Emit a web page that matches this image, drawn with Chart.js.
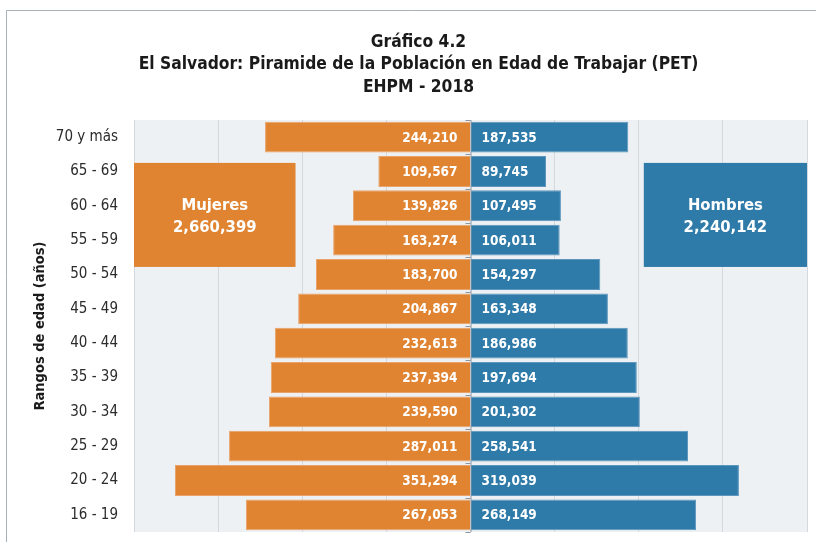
<!DOCTYPE html>
<html>
<head>
<meta charset="utf-8">
<script src="https://cdn.jsdelivr.net/npm/chart.js@4"></script>
<style>
  html,body{margin:0;padding:0;background:#fff;}
  #wrap{position:relative;width:816px;height:542px;}
</style>
</head>
<body>
<div id="wrap"><canvas id="c" width="816" height="542"></canvas></div>
<script>
const categories = ["70 y más","65 - 69","60 - 64","55 - 59","50 - 54","45 - 49","40 - 44","35 - 39","30 - 34","25 - 29","20 - 24","16 - 19"];
const mujeres = [244210,109567,139826,163274,183700,204867,232613,237394,239590,287011,351294,267053];
const hombres = [187535,89745,107495,106011,154297,163348,186986,197694,201302,258541,319039,268149];
const titleLines = ["Gráfico 4.2","El Salvador: Piramide de la Población en Edad de Trabajar (PET)","EHPM - 2018"];
const yAxisTitle = "Rangos de edad (años)";
const seriesNames = ["Mujeres","Hombres"];

const FONT = "'DejaVu Sans Condensed', 'Liberation Sans Narrow', sans-serif";
const fmt = v => Math.abs(v).toLocaleString('en-US');
const total = arr => arr.reduce((a,b)=>a+b,0);

const ORANGE = '#E08432';
const BLUE = '#2E7AA9';

const bgPlugin = {
  id:'bg',
  beforeDraw(chart){
    const {ctx, chartArea:a} = chart;
    ctx.save();
    ctx.fillStyle = '#fff';
    ctx.fillRect(0,0,chart.width,chart.height);
    ctx.strokeStyle = '#A9B0B7';
    ctx.lineWidth = 1;
    ctx.beginPath();
    ctx.moveTo(6.5, chart.height+5);
    ctx.lineTo(6.5, 10.5);
    ctx.lineTo(chart.width+5, 10.5);
    ctx.stroke();
    ctx.fillStyle = '#EEF1F3';
    ctx.fillRect(a.left, a.top, a.right-a.left, a.bottom-a.top);
    ctx.restore();
  }
};

const labelPlugin = {
  id:'labels',
  afterDatasetsDraw(chart){
    const {ctx, scales:{x,y}} = chart;
    ctx.save();
    ctx.font = "bold 13.5px " + FONT;
    ctx.fillStyle = '#fff';
    ctx.textBaseline = 'middle';
    chart.data.datasets.forEach((ds, di) => {
      const meta = chart.getDatasetMeta(di);
      meta.data.forEach((bar, i) => {
        const v = ds.data[i];
        if (v < 0) {
          ctx.textAlign = 'right';
          ctx.fillText(fmt(v), x.getPixelForValue(0) - 13, bar.y + 1);
        } else {
          ctx.textAlign = 'left';
          ctx.fillText(fmt(v), x.getPixelForValue(0) + 11, bar.y + 1);
        }
      });
    });
    const boxes = [
      {name: seriesNames[0], val: total(mujeres), x0: -400000, x1: -208000, color: ORANGE},
      {name: seriesNames[1], val: total(hombres), x0: 206000, x1: 400000, color: BLUE}
    ];
    boxes.forEach(b => {
      const px0 = x.getPixelForValue(b.x0), px1 = x.getPixelForValue(b.x1);
      const py0 = y.getPixelForValue(0.75), py1 = y.getPixelForValue(3.78);
      ctx.fillStyle = b.color;
      ctx.fillRect(px0, py0, px1-px0, py1-py0);
      ctx.fillStyle = '#fff';
      ctx.textAlign = 'center';
      ctx.font = "bold 16.5px " + FONT;
      const cx = (px0+px1)/2, cy = (py0+py1)/2;
      ctx.fillText(b.name, cx, cy - 9);
      ctx.fillText(fmt(b.val), cx, cy + 13);
    });
    const x0 = x.getPixelForValue(0);
    ctx.strokeStyle = '#8C959D';
    ctx.lineWidth = 1;
    ctx.beginPath();
    ctx.moveTo(x0+0.5, y.top); ctx.lineTo(x0+0.5, y.bottom);
    for (let i=0;i<=categories.length;i++){
      const py = Math.round(y.getPixelForValue(i-0.5))+0.5;
      ctx.moveTo(x0-5, py); ctx.lineTo(x0, py);
    }
    ctx.stroke();
    ctx.restore();
  }
};

new Chart(document.getElementById('c'), {
  type:'bar',
  data:{
    labels: categories,
    datasets:[
      {label: seriesNames[0], data: mujeres.map(v=>-v), backgroundColor: ORANGE, borderColor:'#E9A36A', borderWidth:1, barPercentage:0.9, categoryPercentage:1},
      {label: seriesNames[1], data: hombres, backgroundColor: BLUE, borderColor:'#5E97BD', borderWidth:1, barPercentage:0.9, categoryPercentage:1}
    ]
  },
  options:{
    indexAxis:'y',
    responsive:false,
    animation:false,
    devicePixelRatio:1,
    layout:{padding:{top:14, right:9, bottom:10, left:30}},
    plugins:{
      legend:{display:false},
      tooltip:{enabled:false},
      title:{
        display:true,
        text:titleLines,
        color:'#1a1a1a',
        font:{family:FONT, size:17.3, weight:'bold', lineHeight:1.31},
        padding:{top:17, bottom:21}
      }
    },
    scales:{
      x:{
        stacked:true,
        min:-400000, max:400000,
        ticks:{display:false, stepSize:100000},
        grid:{color:(c)=> c.tick && c.tick.value===0 ? 'rgba(0,0,0,0)' : '#D3D9DF', drawTicks:false, lineWidth:1},
        border:{display:false},
        afterFit(scale){ scale.height = 0; }
      },
      y:{
        stacked:true,
        ticks:{color:'#2b2b2b', font:{family:FONT, size:15}, padding:16},
        grid:{display:false, drawTicks:false},
        border:{display:false},
        title:{display:true, text:yAxisTitle, color:'#1a1a1a', font:{family:FONT, size:14.5, weight:'bold'}, padding:{top:2,bottom:0}},
        afterFit(scale){ scale.width = 104; scale.paddingTop = 0; scale.paddingBottom = 0; }
      }
    }
  },
  plugins:[bgPlugin, labelPlugin]
});
</script>
</body>
</html>
